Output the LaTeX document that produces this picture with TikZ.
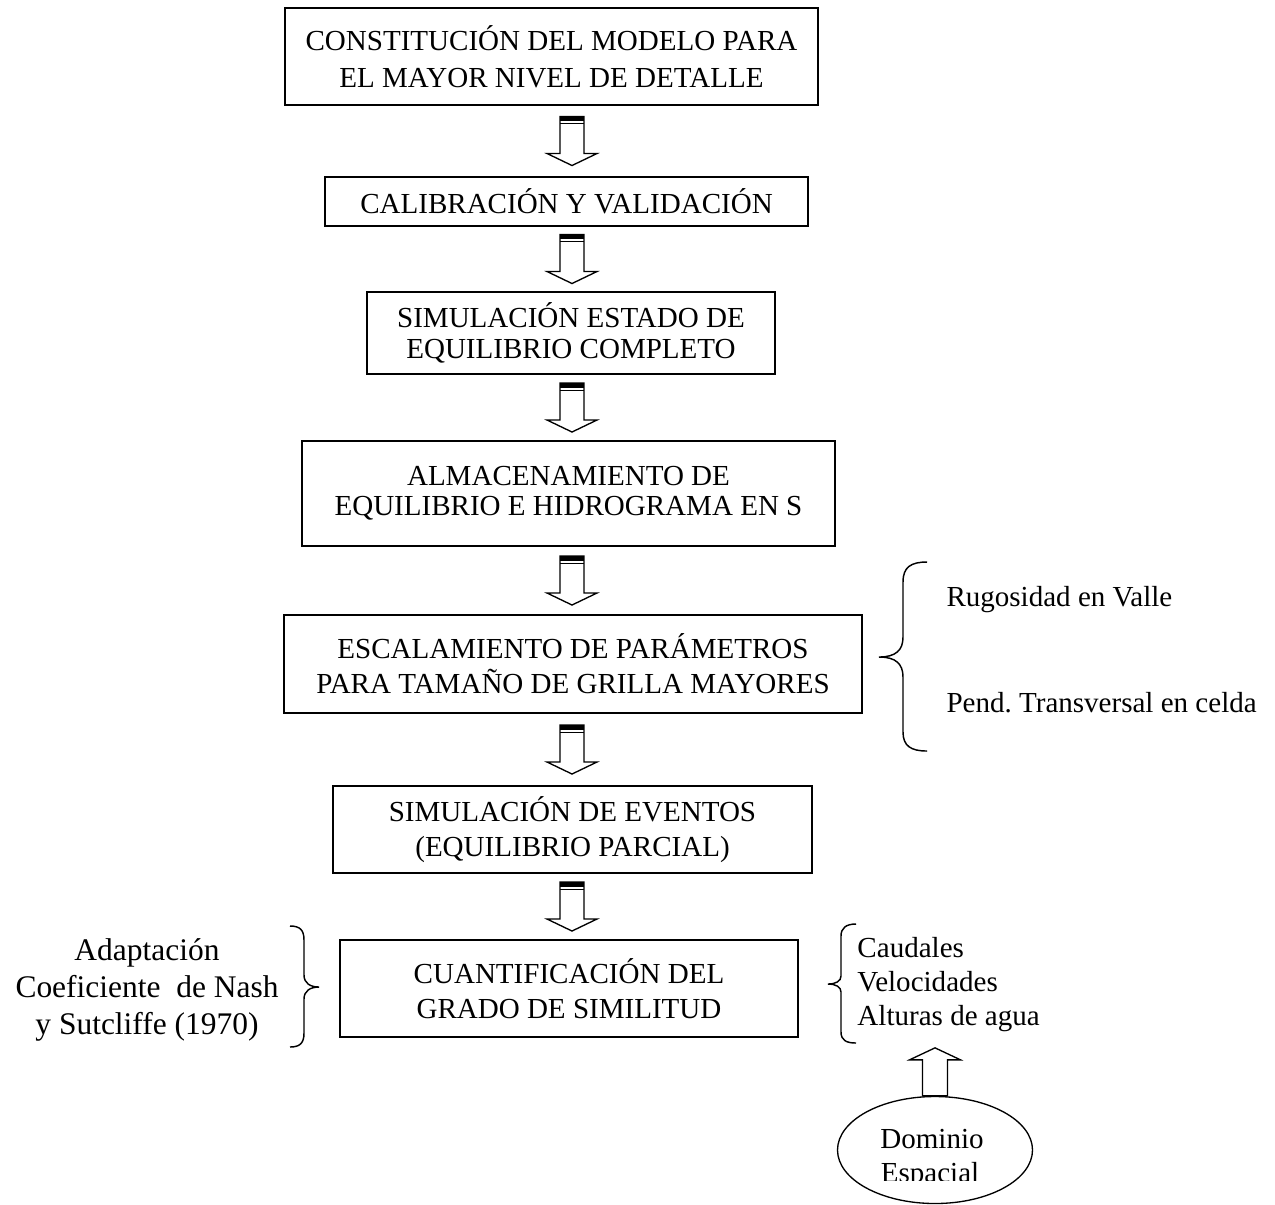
\documentclass[tikz,border=0pt]{standalone}
\usepackage{fontspec}
\setmainfont{Liberation Serif}
\usetikzlibrary{calc,shapes.geometric}

% one drawing unit (px) in pt
\def\U{0.4132pt}

% hollow block arrow centred in the gap between two stages, at horizontal position #3
\newcommand\stagearrow[3]{%
  \path let \p1=(#1.south), \p2=(#2.north),
            \p3=({#3*\U},{(\y1+\y2)/2}) in coordinate (#1-arr) at (\x3,\y3);
  \begin{scope}[shift={(#1-arr)}]
    \draw[arrowline] (-12,-24.5) -- (-12,12.5) -- (-25,12.5) -- (0,24.5)
                     -- (25,12.5) -- (12,12.5) -- (12,-24.5) -- cycle;
    \fill (-12,-24.5) rectangle (12,-20);
    \draw[arrowline] (-12,-17.3) -- (12,-17.3);
  \end{scope}}

\begin{document}
\begin{tikzpicture}[x=0.4132pt, y=-0.4132pt,
  stage/.style={draw, line width=0.75pt, inner sep=0pt, align=center},
  arrowline/.style={draw, line width=0.55pt, line join=miter},
  bracestroke/.style={draw, line width=0.6pt},
  sidetext/.style={inner sep=0pt, font=\fontsize{12}{14}\selectfont},
  notetext/.style={inner sep=0pt, font=\fontsize{13}{15}\selectfont}]

\useasboundingbox (0,0) rectangle (1275,1204);

% main chain of stages
\node[stage, font=\fontsize{12}{15.3}\selectfont, minimum width={533*\U}, minimum height={97*\U}]
  (b1) at (551.5,56.5) {CONSTITUCIÓN DEL MODELO PARA\\EL MAYOR NIVEL DE DETALLE};
\node[stage, font=\fontsize{12}{14.5}\selectfont, minimum width={483*\U}, minimum height={49*\U}]
  (b2) at (566.5,201.5) {CALIBRACIÓN Y VALIDACIÓN};
\node[stage, font=\fontsize{12}{12.6}\selectfont, minimum width={408*\U}, minimum height={82*\U}]
  (b3) at (571,333) {SIMULACIÓN ESTADO DE\\EQUILIBRIO COMPLETO};
\node[stage, font=\fontsize{12}{12.5}\selectfont, minimum width={533*\U}, minimum height={105*\U}]
  (b4) at (568.5,493.5) {ALMACENAMIENTO DE\\EQUILIBRIO E HIDROGRAMA EN S};
\node[stage, font=\fontsize{12}{14.5}\selectfont, minimum width={578*\U}, minimum height={98*\U}]
  (b5) at (573,664) {ESCALAMIENTO DE PARÁMETROS\\PARA TAMAÑO DE GRILLA MAYORES};
\node[stage, font=\fontsize{12}{14.5}\selectfont, minimum width={479*\U}, minimum height={87*\U}]
  (b6) at (572.5,829.5) {SIMULACIÓN DE EVENTOS\\(EQUILIBRIO PARCIAL)};
\node[stage, font=\fontsize{12}{14.5}\selectfont, minimum width={458*\U}, minimum height={97*\U}]
  (b7) at (569,988.5) {CUANTIFICACIÓN DEL\\GRADO DE SIMILITUD};

\stagearrow{b1}{b2}{572}
\stagearrow{b2}{b3}{572}
\stagearrow{b3}{b4}{572}
\stagearrow{b4}{b5}{572}
\stagearrow{b5}{b6}{572}
\stagearrow{b6}{b7}{572}

% scaling parameters
\node[sidetext, anchor=base west] (rug) at (946,606) {Rugosidad en Valle};
\node[sidetext, anchor=base west] (pend) at (946,712) {Pend.\ Transversal en celda};
\draw[bracestroke] (927,562) .. controls (911,562) and (903,567) .. (903,582)
  -- (903,637) .. controls (903,650) and (896,657) .. (879,657)
  .. controls (896,657) and (903,664) .. (903,677)
  -- (903,732) .. controls (903,746) and (911,751) .. (927,751);

% efficiency criterion
\node[notetext, anchor=base] (adap) at (147,960) {Adaptación};
\node[notetext, anchor=base] (coef) at (147,997) {Coeficiente\ \ de Nash};
\node[notetext, anchor=base] (sutc) at (147,1034) {y Sutcliffe (1970)};
\draw[bracestroke] (290,926) .. controls (300,926) and (304,930) .. (304,940)
  -- (304,975) .. controls (304,983) and (310,987) .. (319,987)
  .. controls (310,987) and (304,991) .. (304,999)
  -- (304,1033) .. controls (304,1043) and (300,1047) .. (290,1047);

% compared variables
\node[sidetext, anchor=base west] (caud) at (857,957) {Caudales};
\node[sidetext, anchor=base west] (velo) at (857,991) {Velocidades};
\node[sidetext, anchor=base west] (altu) at (857,1025) {Alturas de agua};
\draw[bracestroke] (856,924) .. controls (846,924) and (841,928) .. (841,936)
  -- (841,976) .. controls (841,981) and (836,984) .. (828,984)
  .. controls (836,984) and (841,987) .. (841,992)
  -- (841,1032) .. controls (841,1040) and (846,1043) .. (856,1043);

% spatial domain
\node[ellipse, draw, line width=0.55pt, minimum width={195*\U}, minimum height={107*\U}, inner sep=0pt]
  (dom) at (935,1150) {};
\begin{scope}
  \clip (830,1090) rectangle (1045,1180);
  \node[sidetext, anchor=base] (domA) at (932,1148) {Dominio};
  \node[sidetext, anchor=base] (domB) at (930,1182) {Espacial};
\end{scope}
\coordinate (uparr) at (dom.north);
\begin{scope}[shift={(uparr)}]
  \draw[arrowline] (-12.5,0) -- (-12.5,-36) -- (-25.5,-36) -- (0,-48)
                   -- (25.5,-36) -- (12.5,-36) -- (12.5,0) -- cycle;
\end{scope}
\end{tikzpicture}
\end{document}
